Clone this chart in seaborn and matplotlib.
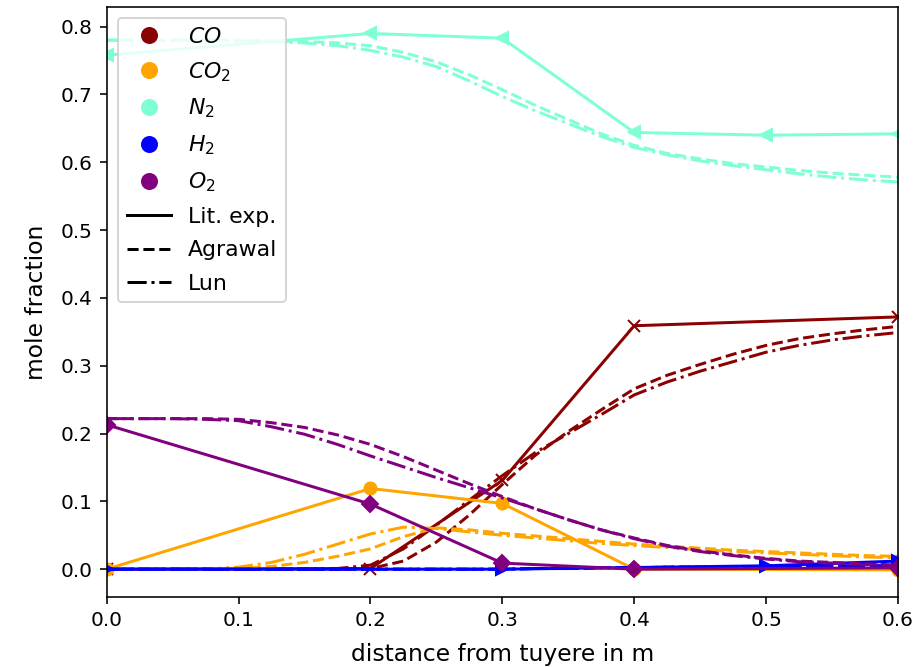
import matplotlib
matplotlib.use("Agg")
import matplotlib.pyplot as plt
from matplotlib.lines import Line2D
import seaborn as sns
import pandas as pd

# ---------------- data ----------------
species = ["CO", "CO2", "N2", "H2", "O2"]
legend_labels = ["$CO$", "$CO_2$", "$N_2$", "$H_2$", "$O_2$"]
colors = ["darkred", "orange", "aquamarine", "blue", "purple"]
markers = ["x", "o", "<", ">", "D"]

# literature experiments (Lit. exp.)
exp_x = {
    "CO":  [0.0, 0.2, 0.3, 0.4, 0.6],
    "CO2": [0.0, 0.2, 0.3, 0.4, 0.6],
    "N2":  [0.0, 0.2, 0.3, 0.4, 0.5, 0.6],
    "H2":  [0.0, 0.3, 0.5, 0.6],
    "O2":  [0.0, 0.2, 0.3, 0.4, 0.6],
}
exp_y = {
    "CO":  [0.0, 0.001, 0.131, 0.359, 0.372],
    "CO2": [0.0, 0.119, 0.097, 0.0, -0.001],
    "N2":  [0.758, 0.790, 0.783, 0.644, 0.640, 0.642],
    "H2":  [0.0, 0.0, 0.005, 0.012],
    "O2":  [0.213, 0.096, 0.009, 0.0, 0.002],
}

# model curves
x_model = [0.000, 0.025, 0.050, 0.075, 0.100, 0.125, 0.150, 0.175, 0.200,
           0.225, 0.250, 0.275, 0.300, 0.325, 0.350, 0.375, 0.400, 0.425,
           0.450, 0.475, 0.500, 0.525, 0.550, 0.575, 0.600]

agrawal = {
    "CO":  [0, 0, 0, 0, 0, 0, 0, 0, 0.001, 0.012, 0.040, 0.080, 0.125, 0.168,
            0.203, 0.235, 0.266, 0.286, 0.302, 0.317, 0.330, 0.340, 0.347, 0.353, 0.358],
    "CO2": [0, 0, 0, 0, 0.001, 0.004, 0.010, 0.019, 0.030, 0.048, 0.061, 0.058,
            0.053, 0.049, 0.045, 0.041, 0.037, 0.034, 0.031, 0.028, 0.026, 0.024,
            0.022, 0.020, 0.019],
    "N2":  [0.780, 0.780, 0.780, 0.780, 0.780, 0.779, 0.778, 0.776, 0.772, 0.762,
            0.748, 0.729, 0.707, 0.684, 0.663, 0.642, 0.625, 0.613, 0.605, 0.598,
            0.593, 0.588, 0.584, 0.581, 0.578],
    "H2":  [0, 0, 0, 0, 0, 0, 0, 0, 0, 0, 0, 0, 0, 0.001, 0.001, 0.002, 0.002,
            0.003, 0.003, 0.004, 0.004, 0.004, 0.005, 0.005, 0.005],
    "O2":  [0.222, 0.222, 0.222, 0.222, 0.221, 0.216, 0.209, 0.198, 0.184, 0.166,
            0.146, 0.126, 0.107, 0.089, 0.073, 0.058, 0.046, 0.035, 0.027, 0.021,
            0.016, 0.012, 0.010, 0.008, 0.006],
}
lun = {
    "CO":  [0, 0, 0, 0, 0, 0, 0, 0.001, 0.006, 0.030, 0.065, 0.102, 0.138, 0.172,
            0.200, 0.228, 0.257, 0.276, 0.292, 0.306, 0.320, 0.330, 0.338, 0.344, 0.349],
    "CO2": [0, 0, 0, 0, 0.003, 0.010, 0.022, 0.037, 0.052, 0.062, 0.060, 0.055,
            0.050, 0.046, 0.042, 0.038, 0.035, 0.032, 0.029, 0.026, 0.024, 0.022,
            0.020, 0.018, 0.017],
    "N2":  [0.780, 0.780, 0.780, 0.780, 0.779, 0.778, 0.776, 0.772, 0.765, 0.755,
            0.741, 0.720, 0.697, 0.676, 0.657, 0.638, 0.622, 0.611, 0.602, 0.595,
            0.589, 0.583, 0.578, 0.574, 0.571],
    "H2":  [0, 0, 0, 0, 0, 0, 0, 0, 0, 0, 0, 0, 0, 0.001, 0.001, 0.002, 0.002,
            0.003, 0.003, 0.003, 0.004, 0.004, 0.004, 0.005, 0.005],
    "O2":  [0.222, 0.222, 0.222, 0.221, 0.219, 0.210, 0.199, 0.184, 0.167, 0.151,
            0.135, 0.120, 0.105, 0.089, 0.073, 0.058, 0.045, 0.034, 0.026, 0.020,
            0.015, 0.011, 0.009, 0.007, 0.005],
}

model_names = ["Lit. exp.", "Agrawal", "Lun"]
model_styles = ["-", "--", "-."]

# ---------------- figure ----------------
W, H, DPI = 922, 667, 144
fig, ax = plt.subplots(figsize=(W / DPI, H / DPI), dpi=DPI)
fig.subplots_adjust(left=106.7 / W, right=898 / W, top=1 - 7 / H, bottom=1 - 597 / H)

for sp, col, mk in zip(species, colors, markers):
    dfe = pd.DataFrame({"x": exp_x[sp], "y": exp_y[sp]})
    sns.lineplot(data=dfe, x="x", y="y", ax=ax, color=col, linestyle="-",
                 marker=mk, markersize=6, markeredgecolor=col,
                 markerfacecolor=col, markeredgewidth=1.0, linewidth=1.5)
    dfa = pd.DataFrame({"x": x_model, "y": agrawal[sp]})
    sns.lineplot(data=dfa, x="x", y="y", ax=ax, color=col, linestyle="--",
                 linewidth=1.5)
    dfl = pd.DataFrame({"x": x_model, "y": lun[sp]})
    sns.lineplot(data=dfl, x="x", y="y", ax=ax, color=col, linestyle="-.",
                 linewidth=1.5)

ax.set_xlim(0, 0.6)
ax.set_ylim(-0.041, 0.829)
ax.set_xlabel("distance from tuyere in m", fontsize=11.7, labelpad=6.5)
ax.set_ylabel("mole fraction", fontsize=11.7, labelpad=6.5)

handles = [Line2D([], [], color=c, marker="o", linestyle="None", markersize=7.5)
           for c in colors]
handles += [Line2D([], [], color="black", linestyle=ls, linewidth=1.5)
            for ls in model_styles]
labels = legend_labels + model_names
ax.legend(handles, labels, loc="upper left", fontsize=11, labelspacing=0.6)

fig.savefig("out.png", dpi=DPI)
